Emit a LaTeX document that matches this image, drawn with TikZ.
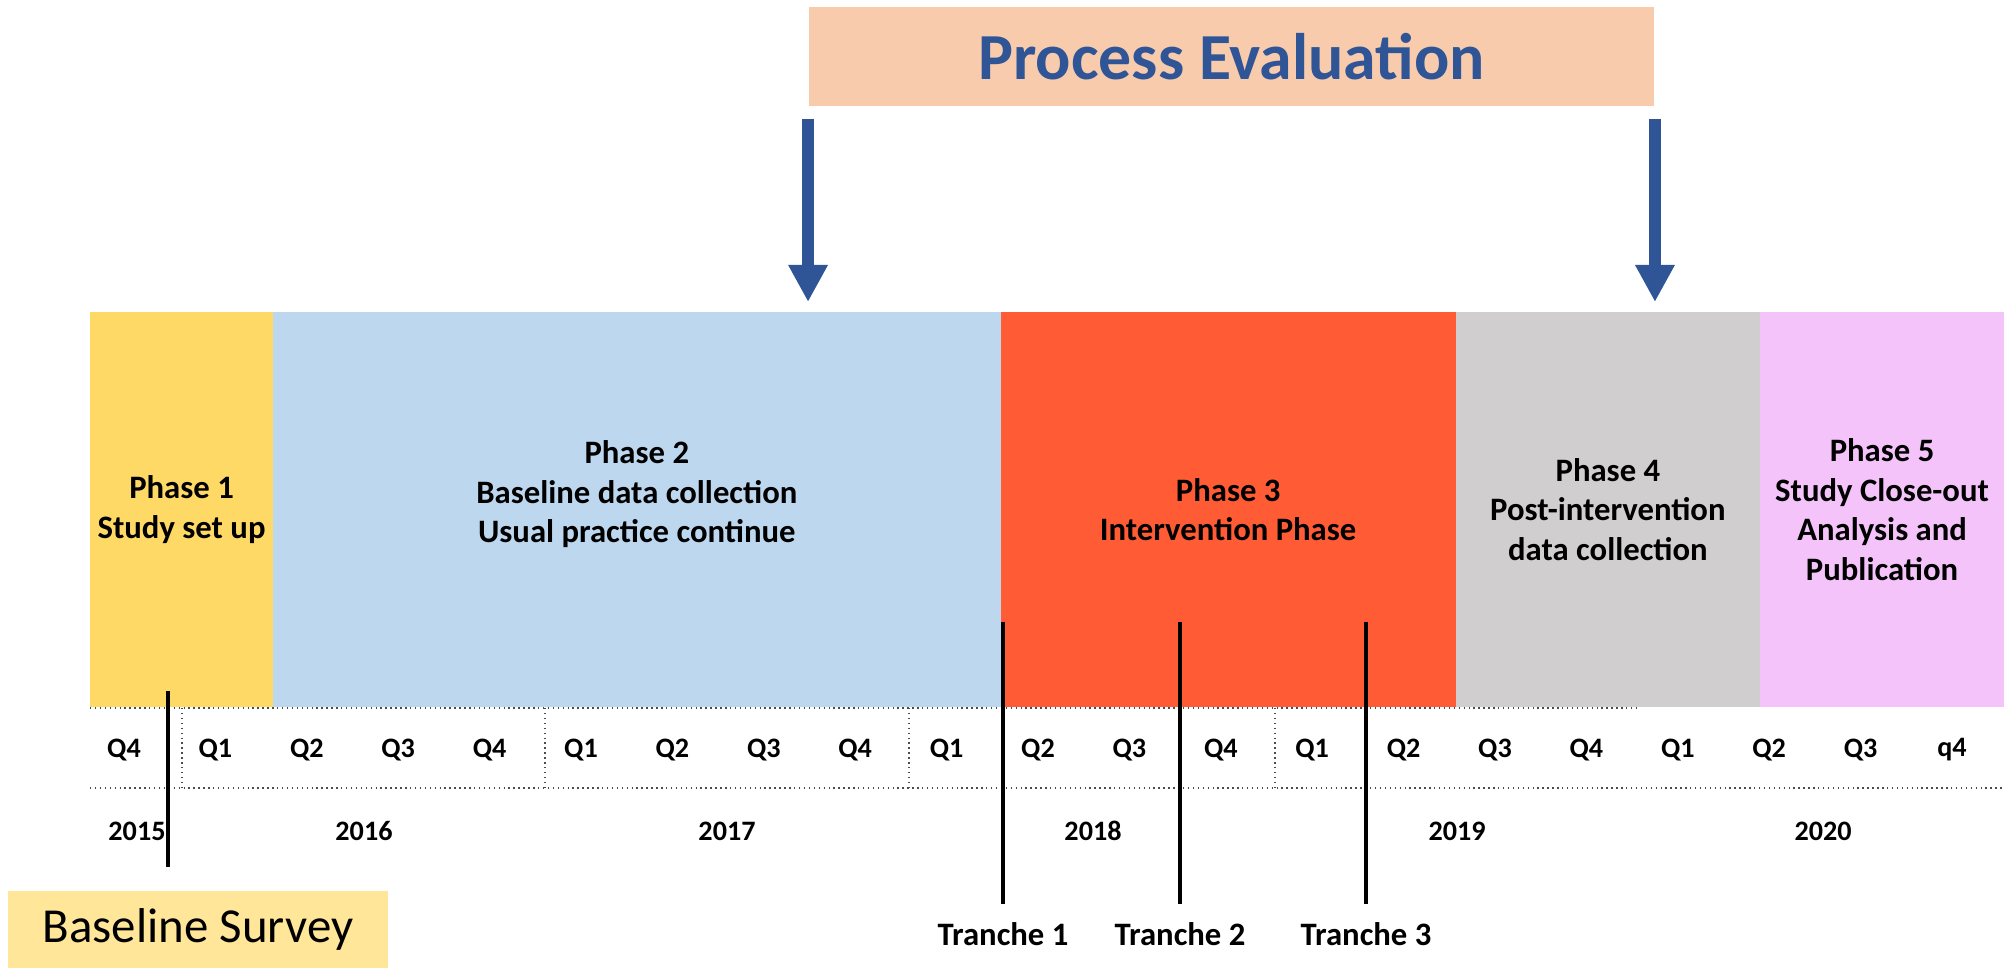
\documentclass[tikz,border=0pt]{standalone}
\usepackage{fontspec}
\setmainfont{Carlito}
\usetikzlibrary{arrows.meta, positioning}
\definecolor{phaseone}{HTML}{FFD966}
\definecolor{phasetwo}{HTML}{BDD7EE}
\definecolor{phasethree}{HTML}{FF5B35}
\definecolor{phasefour}{HTML}{D0CECE}
\definecolor{phasefive}{HTML}{F4C3F9}
\definecolor{procfill}{HTML}{F8CBAD}
\definecolor{procblue}{HTML}{2F5597}
\definecolor{surveyfill}{HTML}{FFE699}
\tikzstyle{phase} = [
    rectangle,
    minimum height=3.95cm,
    inner sep=0pt,
    outer sep=0pt,
    text centered,
    align=center,
    font=\fontsize{9.3}{11.2}\selectfont\bfseries
]
\tikzstyle{quarter} = [font=\fontsize{8}{9.6}\selectfont\bfseries]
\tikzstyle{tranche} = [font=\fontsize{9.3}{11.2}\selectfont\bfseries, inner sep=5pt]
\tikzstyle{tickline} = [line width=1pt, black]
\tikzstyle{gridline} = [densely dotted, line width=0.4pt, black!70]
\tikzstyle{pearrow} = [line width=3.6pt, procblue, -{Triangle[width=0.37cm,length=0.37cm]}, shorten >=0.1cm]

\begin{document}
\begin{tikzpicture}[x=0.01cm, y=-0.01cm]
\useasboundingbox (0,0) rectangle (2006,968);

% Phases
\node (ph1) [phase, fill=phaseone, minimum width=1.83cm, anchor=north west] at (90,312) {Phase 1\\ Study set up};
\node (ph2) [phase, fill=phasetwo, minimum width=7.27cm, right=0pt of ph1] {Phase 2\\ Baseline data collection\\ Usual practice continue\\[-1pt]};
\node (ph3) [phase, fill=phasethree, minimum width=4.55cm, right=0pt of ph2] {Phase 3\\ Intervention Phase};
\node (ph4) [phase, fill=phasefour, minimum width=3.04cm, right=0pt of ph3] {Phase 4\\ Post-intervention\\ data collection};
\node (ph5) [phase, fill=phasefive, minimum width=2.44cm, right=0pt of ph4] {Phase 5\\ Study Close-out\\ Analysis and\\ Publication};

% Process evaluation
\node (proc) [rectangle, fill=procfill, minimum width=8.45cm, minimum height=0.99cm, text=procblue, font=\fontsize{18.7}{22}\selectfont\bfseries] at (1231.5,56.5) {Process Evaluation};
\draw [pearrow] ([yshift=-0.12cm]proc.south west) -- (proc.south west |- ph2.north);
\draw [pearrow] ([yshift=-0.12cm]proc.south east) -- (proc.south east |- ph4.north);

% Quarters and years
\draw [gridline] (90,708) -- (1637,708);
\draw [gridline] (90,788) -- (2004,788);
\foreach \x in {182,545,909,1275}
    \draw [gridline] (\x,708) -- (\x,788);
\foreach \q [count=\i from 0] in {Q4,Q1,Q2,Q3,Q4,Q1,Q2,Q3,Q4,Q1,Q2,Q3,Q4,Q1,Q2,Q3,Q4,Q1,Q2,Q3,q4}
    \node (q\i) [quarter] at (124+91.4*\i,750) {\q};
\foreach \yr/\x in {2015/137,2016/364,2017/727,2018/1093,2019/1457,2020/1823}
    \node (y\yr) [quarter] at (\x,831) {\yr};

% Baseline survey
\node (survey) [rectangle, fill=surveyfill, minimum width=3.8cm, minimum height=0.77cm, font=\fontsize{13.9}{16.7}\selectfont] at (198,929.5) {Baseline Survey};
\coordinate (bstop) at (168,691);
\coordinate (bsbot) at (168,867);
\draw [tickline] (bstop) -- (bsbot);

% Tranches
\node (tr1) [tranche] at (1003,934) {Tranche 1};
\node (tr2) [tranche] at (1180,934) {Tranche 2};
\node (tr3) [tranche] at (1366,934) {Tranche 3};
\foreach \t in {1,2,3}
    \draw [tickline] (tr\t.north |- 0,622) -- (tr\t.north);

\end{tikzpicture}
\end{document}
